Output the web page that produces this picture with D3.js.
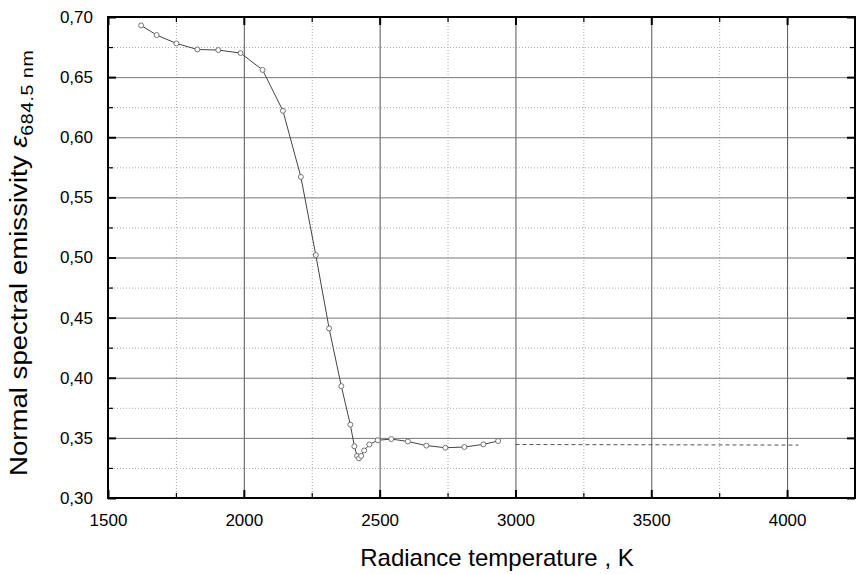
<!DOCTYPE html>
<html>
<head>
<meta charset="utf-8">
<script src="https://cdn.jsdelivr.net/npm/d3@7"></script>
<style>
  body { margin: 0; background: #fff; }
  svg text { font-family: "Liberation Sans", Arial, sans-serif; fill: #000; }
</style>
</head>
<body>
<div id="app"></div>
<script>
// measured points (radiance temperature, K) and emissivity at 684.5 nm
const temperature = [1622, 1679, 1752, 1829, 1906, 1988, 2069, 2144, 2210, 2265,
  2314, 2359, 2392, 2407, 2417, 2424, 2432, 2443, 2462, 2493,
  2543, 2604, 2672, 2742, 2812, 2882, 2936];
const emissivity = [0.693, 0.685, 0.678, 0.673, 0.6725, 0.670, 0.656, 0.622, 0.567, 0.502,
  0.441, 0.393, 0.361, 0.343, 0.335, 0.333, 0.335, 0.3395, 0.3445, 0.348,
  0.349, 0.347, 0.3436, 0.3418, 0.3424, 0.3446, 0.3474];
// dashed extrapolation
const dashedTemperature = [3000, 4042];
const dashedEmissivity = [0.3445, 0.3440];
// axis ticks
const xTicks = [1500, 2000, 2500, 3000, 3500, 4000];
const xMinorTicks = [1750, 2250, 2750, 3250, 3750];
const yTicks = [0.30, 0.35, 0.40, 0.45, 0.50, 0.55, 0.60, 0.65, 0.70];
const yMinorTicks = [0.325, 0.375, 0.425, 0.475, 0.525, 0.575, 0.625, 0.675];

const chartSettings = {
  width: 860,
  height: 574,
  left: 108,
  right: 855,
  top: 17,
  bottom: 498,
};

const svg = d3
  .select("#app")
  .append("svg")
  .attr("width", chartSettings.width)
  .attr("height", chartSettings.height);

const x = d3.scaleLinear().domain([1500, 4250]).range([chartSettings.left, chartSettings.right]);
const y = d3.scaleLinear().domain([0.30, 0.70]).range([chartSettings.bottom, chartSettings.top]);

const innerW = chartSettings.right - chartSettings.left;
const innerH = chartSettings.bottom - chartSettings.top;

//minor grid (dotted)
svg.append("g")
  .attr("transform", `translate(0,${chartSettings.bottom})`)
  .call(d3.axisBottom(x).tickValues(xMinorTicks).tickSize(-innerH).tickFormat(""))
  .call(g => g.select(".domain").remove())
  .call(g => g.selectAll("line").attr("stroke", "#aaa").attr("stroke-dasharray", "1,2"));
svg.append("g")
  .attr("transform", `translate(${chartSettings.left},0)`)
  .call(d3.axisLeft(y).tickValues(yMinorTicks).tickSize(-innerW).tickFormat(""))
  .call(g => g.select(".domain").remove())
  .call(g => g.selectAll("line").attr("stroke", "#aaa").attr("stroke-dasharray", "1,2"));

//major grid (solid)
svg.append("g")
  .attr("transform", `translate(0,${chartSettings.bottom})`)
  .call(d3.axisBottom(x).tickValues(xTicks.slice(1)).tickSize(-innerH).tickFormat(""))
  .call(g => g.select(".domain").remove())
  .call(g => g.selectAll("line").attr("stroke", "#555"));
svg.append("g")
  .attr("transform", `translate(${chartSettings.left},0)`)
  .call(d3.axisLeft(y).tickValues(yTicks.slice(1, -1)).tickSize(-innerW).tickFormat(""))
  .call(g => g.select(".domain").remove())
  .call(g => g.selectAll("line").attr("stroke", "#777"));

//dashed line
svg.append("path")
  .datum(d3.zip(dashedTemperature, dashedEmissivity))
  .attr("fill", "none")
  .attr("stroke", "#555")
  .attr("stroke-width", 1)
  .attr("stroke-dasharray", "4,3")
  .attr("d", d3.line().x(d => x(d[0])).y(d => y(d[1])));

//data line and markers
const points = d3.zip(temperature, emissivity);
svg.append("path")
  .datum(points)
  .attr("fill", "none")
  .attr("stroke", "#444")
  .attr("stroke-width", 1)
  .attr("d", d3.line().x(d => x(d[0])).y(d => y(d[1])));
svg.append("g")
  .selectAll("circle")
  .data(points)
  .join("circle")
  .attr("cx", d => x(d[0]))
  .attr("cy", d => y(d[1]))
  .attr("r", 2.5)
  .attr("fill", "#fff")
  .attr("stroke", "#666")
  .attr("stroke-width", 0.9);

//inner ticks on all four sides
const yFormat = d => d3.format(".2f")(d).replace(".", ",");
const tickStyle = g => {
  g.select(".domain").remove();
  g.selectAll("line").attr("stroke", "#000").attr("stroke-width", 2);
};
const minorStyle = g => {
  g.select(".domain").remove();
  g.selectAll("line").attr("stroke", "#000").attr("stroke-width", 1.2);
  g.selectAll("text").remove();
};

const xBottom = svg.append("g")
  .attr("transform", `translate(0,${chartSettings.bottom})`)
  .call(d3.axisBottom(x).tickValues(xTicks).tickSize(-8).tickPadding(16).tickFormat(d3.format("d")))
  .call(tickStyle);
xBottom.selectAll("text").attr("font-size", 17);
svg.append("g")
  .attr("transform", `translate(0,${chartSettings.bottom})`)
  .call(d3.axisBottom(x).tickValues(xMinorTicks).tickSize(-5))
  .call(minorStyle);
svg.append("g")
  .attr("transform", `translate(0,${chartSettings.top})`)
  .call(d3.axisTop(x).tickValues(xTicks).tickSize(-8).tickFormat(""))
  .call(tickStyle);
svg.append("g")
  .attr("transform", `translate(0,${chartSettings.top})`)
  .call(d3.axisTop(x).tickValues(xMinorTicks).tickSize(-5))
  .call(minorStyle);

const yLeft = svg.append("g")
  .attr("transform", `translate(${chartSettings.left},0)`)
  .call(d3.axisLeft(y).tickValues(yTicks).tickSize(-8).tickPadding(15).tickFormat(yFormat))
  .call(tickStyle);
yLeft.selectAll("text").attr("font-size", 17);
svg.append("g")
  .attr("transform", `translate(${chartSettings.left},0)`)
  .call(d3.axisLeft(y).tickValues(yMinorTicks).tickSize(-5))
  .call(minorStyle);
svg.append("g")
  .attr("transform", `translate(${chartSettings.right},0)`)
  .call(d3.axisRight(y).tickValues(yTicks).tickSize(-8).tickFormat(""))
  .call(tickStyle);
svg.append("g")
  .attr("transform", `translate(${chartSettings.right},0)`)
  .call(d3.axisRight(y).tickValues(yMinorTicks).tickSize(-5))
  .call(minorStyle);

//frame
svg.append("rect")
  .attr("x", chartSettings.left)
  .attr("y", chartSettings.top)
  .attr("width", innerW)
  .attr("height", innerH)
  .attr("fill", "none")
  .attr("stroke", "#000")
  .attr("stroke-width", 2);

//axis titles
svg.append("text")
  .attr("x", 497)
  .attr("y", 566)
  .attr("text-anchor", "middle")
  .attr("font-size", 24)
  .text("Radiance temperature , K");

//y title is drawn a little stretched along its length, like the original
const yTitle = svg.append("text")
  .attr("transform", "translate(27,476) rotate(-90) scale(1.15,1)")
  .attr("text-anchor", "start")
  .attr("font-size", 24);
yTitle.append("tspan").text("Normal spectral emissivity ");
yTitle.append("tspan").attr("font-style", "italic").text("ε");
yTitle.append("tspan")
  .attr("font-size", 17)
  .attr("letter-spacing", 0.5)
  .attr("dy", 6)
  .text("684.5 nm");
</script>
</body>
</html>
